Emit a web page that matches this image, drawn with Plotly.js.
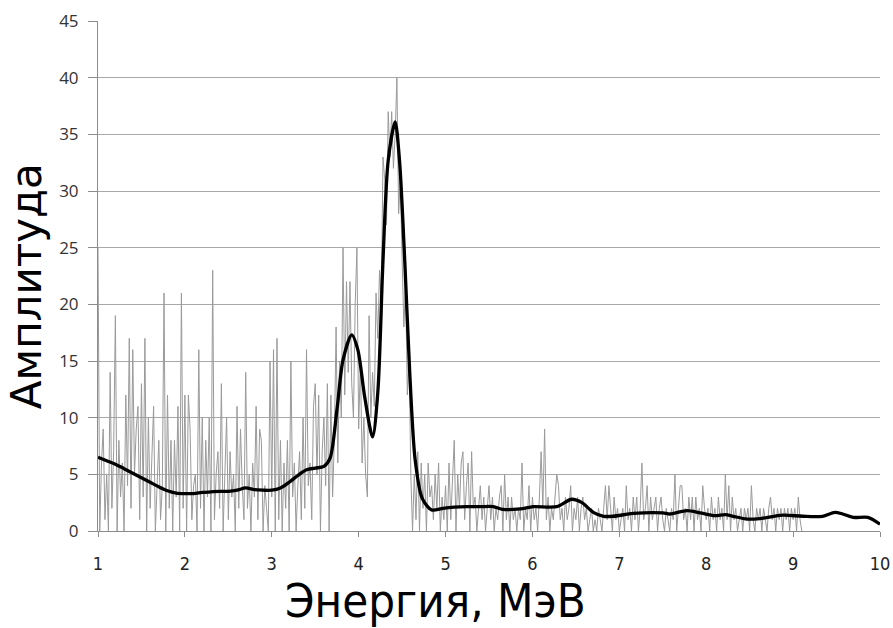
<!DOCTYPE html>
<html>
<head>
<meta charset="utf-8">
<script src="https://cdn.plot.ly/plotly-3.0.1.min.js"></script>
<style>html,body{margin:0;padding:0;background:#fff;}#chart{width:893px;height:628px;}</style>
</head>
<body>
<div id="chart"></div>
<script>
// Raw spectrum (gray), sampled every 0.02 MeV starting at 1.00 MeV
const grayStart = 1.0;
const grayStep = 0.02;
// 1.00 – 3.58 MeV
const grayAmpLow = [
  25,0,6,9,1,5,0,14,2,7,
  19,0,8,3,6,0,12,4,17,2,
  16,5,9,11,1,13,3,17,0,10,
  2,6,11,0,5,8,1,4,21,0,
  12,2,8,0,8,3,11,0,21,2,
  12,0,12,9,1,4,5,0,16,2,
  10,0,8,3,10,0,23,1,5,7,
  2,13,0,6,10,1,7,3,5,0,
  11,2,9,4,1,14,2,5,0,6,
  3,11,1,9,8,0,4,2,0,15,
  3,16,0,17,1,8,0,6,2,8,
  0,15,3,6,0,4,7,1,10,2,
  16,4,6,1,11,13,5,12,0,7
];
// 3.60 – 4.58 MeV (peaks)
const grayAmpPeak = [
  10,4,13,0,12,3,8,18,6,15,
  10,25,12,22,14,22,13,10,20,25,
  9,15,6,10,5,3,19,10,14,11,
  21,17,23,20,33,31,27,37,33,37,
  32,35,40,28,31,24,18,22,12,16
];
// 4.60 – 9.10 MeV
const grayAmpHigh = [
  5,0,5,1,7,0,6,2,5,0,
  6,3,4,1,5,2,6,0,3,1,
  4,0,6,1,4,8,0,5,2,6,
  7,1,4,6,0,7,2,3,0,2,
  4,1,3,0,2,4,1,3,0,2,
  1,3,4,0,5,1,3,0,3,1,
  2,0,2,1,6,0,2,1,4,0,
  3,1,2,0,3,7,2,9,1,3,
  0,2,1,3,5,4,1,2,0,3,
  1,2,4,0,2,1,3,0,2,3,
  1,2,0,1,2,0,1,0,2,1,
  0,2,4,1,4,2,0,3,1,2,
  0,1,2,0,4,1,2,0,3,1,
  3,0,2,6,1,2,4,0,3,1,
  2,3,0,2,3,1,0,2,1,0,
  2,1,5,0,2,4,4,1,2,0,
  3,1,3,0,3,1,2,0,4,2,
  1,2,0,3,1,2,0,3,1,2,
  0,5,1,4,0,3,1,2,0,1,
  2,0,2,1,2,0,4,1,0,2,
  1,2,0,2,1,0,2,3,1,2,
  0,2,1,2,0,2,1,2,0,2,
  1,2,0,3,1,0
];

// Smoothed spectrum (black)
const smoothEnergy = [1.0,1.1,1.2,1.3,1.4,1.5,1.6,1.7,1.8,1.9,2.0,2.1,2.2,2.3,2.4,2.5,2.6,2.7,2.8,2.9,3.0,3.1,3.2,3.3,3.4,3.5,3.6,3.67,3.75,3.82,3.92,3.99,4.07,4.16,4.22,4.28,4.34,4.42,4.47,4.53,4.59,4.65,4.73,4.84,4.97,5.1,5.24,5.4,5.55,5.66,5.86,6.01,6.28,6.45,6.57,6.70,6.82,6.93,7.16,7.5,7.58,7.78,7.93,8.10,8.22,8.31,8.47,8.62,8.88,9.11,9.34,9.48,9.57,9.69,9.86,10.0];
const smoothAmp = [6.5,6.2,5.9,5.5,5.1,4.7,4.3,3.9,3.55,3.35,3.3,3.3,3.4,3.45,3.5,3.5,3.6,3.8,3.65,3.6,3.6,3.8,4.3,4.9,5.4,5.55,5.7,6.4,10.7,15.1,17.3,16,11.8,8.3,12.2,23.9,32.7,36.1,32.7,23.9,13.6,6.3,2.9,1.85,2.0,2.1,2.15,2.15,2.15,1.9,1.95,2.15,2.15,2.8,2.5,1.65,1.3,1.3,1.55,1.6,1.5,1.8,1.6,1.35,1.45,1.3,1.05,1.1,1.4,1.3,1.3,1.65,1.5,1.2,1.2,0.6];

const xTicks = [1,2,3,4,5,6,7,8,9,10];
const xTickLabels = ['1','2','3','4','5','6','7','8','9','10'];
const yTicks = [0,5,10,15,20,25,30,35,40,45];
const yTickLabels = ['0','5','10','15','20','25','30','35','40','45'];
const xTitle = 'Энергия, МэВ';
const yTitle = 'Амплитуда';

const grayAmp = grayAmpLow.concat(grayAmpPeak, grayAmpHigh);
const grayEnergy = grayAmp.map((_, i) => +(grayStart + i * grayStep).toFixed(3));

const traces = [
  {x: grayEnergy, y: grayAmp, type: 'scatter', mode: 'lines',
   line: {color: '#9a9a9a', width: 1}, hoverinfo: 'skip'},
  {x: smoothEnergy, y: smoothAmp, type: 'scatter', mode: 'lines',
   line: {color: '#000000', width: 3.3, shape: 'spline', smoothing: 0.8}}
];

const layout = {
  width: 893, height: 628,
  margin: {l: 98, r: 13, t: 21, b: 97},
  paper_bgcolor: '#ffffff', plot_bgcolor: '#ffffff',
  showlegend: false,
  xaxis: {
    range: [1, 10], tickmode: 'array', tickvals: xTicks, ticktext: xTickLabels,
    showgrid: false, zeroline: false, showline: true, linecolor: '#8c8c8c', linewidth: 1,
    ticks: 'outside', ticklen: 5, tickcolor: '#8c8c8c', ticklabelstandoff: 11,
    tickfont: {family: 'Liberation Sans Narrow, DejaVu Sans Condensed, sans-serif', size: 18, color: '#222'}
  },
  yaxis: {
    range: [0, 45], tickmode: 'array', tickvals: yTicks, ticktext: yTickLabels,
    showgrid: true, gridcolor: '#a8a8a8', gridwidth: 1,
    zeroline: false, showline: true, linecolor: '#8c8c8c', linewidth: 1,
    ticks: 'outside', ticklen: 9, tickcolor: '#8c8c8c', ticklabelstandoff: 6,
    tickfont: {family: 'Open Sans, DejaVu Sans, sans-serif', size: 17, color: '#333'}
  },
  annotations: [
    {text: xTitle, xref: 'paper', yref: 'paper', x: 0.432, y: -0.1353,
     xanchor: 'center', yanchor: 'middle', showarrow: false,
     font: {family: 'DejaVu Sans Condensed, Liberation Sans Narrow, sans-serif', size: 47, color: '#000'}},
    {text: yTitle, xref: 'paper', yref: 'paper', x: -0.092, y: 0.48,
     xanchor: 'center', yanchor: 'middle', textangle: -90, showarrow: false,
     font: {family: 'DejaVu Sans, sans-serif', size: 42, color: '#000'}}
  ]
};

Plotly.newPlot('chart', traces, layout, {displayModeBar: false, staticPlot: true});
</script>
</body>
</html>
